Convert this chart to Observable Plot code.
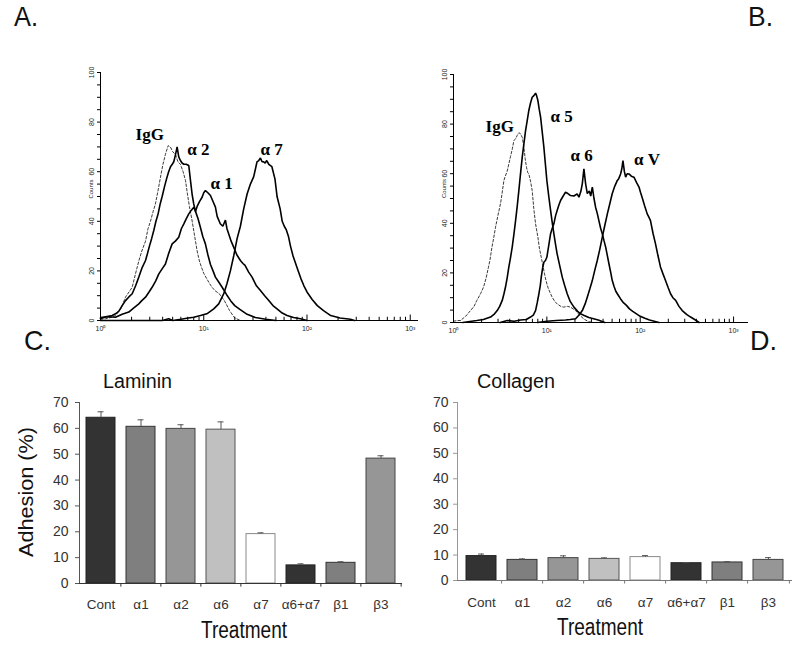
<!DOCTYPE html>
<html><head><meta charset="utf-8">
<script src="https://cdn.jsdelivr.net/npm/d3@7"></script>
<script src="https://cdn.jsdelivr.net/npm/@observablehq/plot@0.6"></script>
<style>
body{margin:0;background:#fff;}
#fig{position:relative;width:800px;height:650px;background:#fff;overflow:hidden;font-family:"Liberation Sans",Arial,sans-serif;}
#fig svg{position:absolute;overflow:visible;}
</style></head><body><div id="fig"></div>
<script>
// ---------- Flow cytometry histograms: [log10 fluorescence, counts] ----------
const aIgG = [[0,0.5],[0.05,0.7],[0.1,1.2],[0.145,2],[0.2,5],[0.242,9.4],[0.307,13.4],[0.34,19],[0.371,24],[0.40,28],[0.436,32],[0.46,37],[0.484,40],[0.51,44],[0.532,47],[0.56,53],[0.581,57.8],[0.605,63],[0.629,67],[0.655,70.5],[0.678,69.9],[0.70,68],[0.726,67],[0.75,64],[0.774,63],[0.80,60],[0.823,56.5],[0.842,51],[0.861,46],[0.884,41],[0.904,36],[0.92,32],[0.936,28],[0.958,24],[0.978,21.5],[1.0,19],[1.03,16.8],[1.055,15],[1.08,13.4],[1.11,12],[1.15,10.8],[1.2,8],[1.25,4],[1.3,1],[1.36,0],[1.5,0]];
const aA2 = [[0,0.7],[0.05,1.5],[0.113,2],[0.15,2.8],[0.178,3.8],[0.21,6],[0.242,8],[0.275,9.5],[0.307,10.8],[0.34,14],[0.371,17.5],[0.40,21],[0.436,24.2],[0.455,27],[0.474,30],[0.495,33],[0.516,36.3],[0.537,40],[0.558,43],[0.578,47],[0.597,50],[0.62,54],[0.639,57],[0.66,60],[0.678,62],[0.695,63],[0.71,64],[0.727,67],[0.742,70],[0.758,66],[0.774,64.5],[0.79,63.5],[0.807,63],[0.83,63],[0.855,62.5],[0.87,57],[0.887,51],[0.903,47],[0.92,44],[0.945,41],[0.968,37.5],[0.99,34],[1.016,30.9],[1.04,26.5],[1.065,22.6],[1.09,20],[1.113,17.5],[1.145,15.5],[1.178,13.4],[1.22,10.5],[1.26,8],[1.3,6],[1.35,4.5],[1.42,2.5],[1.5,1.2],[1.6,0.5],[1.7,0]];
const aA1 = [[0,1],[0.016,1.3],[0.08,1.5],[0.145,1.3],[0.21,2.5],[0.274,3.4],[0.32,5],[0.371,6.7],[0.40,8],[0.436,9.4],[0.47,11.5],[0.50,13.4],[0.535,16],[0.565,18.8],[0.60,21],[0.629,22.8],[0.66,27],[0.694,30.9],[0.725,32],[0.758,33.6],[0.783,37],[0.807,39],[0.83,41],[0.855,43],[0.88,44.5],[0.904,45.7],[0.92,44],[0.936,46],[0.96,48],[0.984,49.7],[1.0,51.5],[1.016,52.4],[1.04,51.5],[1.065,50.4],[1.09,48],[1.113,45.7],[1.13,42],[1.16,39],[1.185,38],[1.21,40.5],[1.225,37],[1.242,34.9],[1.265,32],[1.29,29.6],[1.32,26.5],[1.355,24.2],[1.38,23],[1.40,22.2],[1.435,19.5],[1.468,17.5],[1.51,14],[1.549,12.1],[1.59,10],[1.63,8.1],[1.67,6],[1.71,4.7],[1.76,3],[1.807,2],[1.87,1.2],[1.936,0.7],[2.0,0]];
const aA7 = [[0,0],[0.6,0],[0.66,0.7],[0.70,0],[0.78,0.5],[0.85,1],[0.904,1.3],[0.968,2],[1.03,2.7],[1.097,4.7],[1.145,6.7],[1.194,10.8],[1.226,15],[1.258,20],[1.29,26],[1.323,33],[1.355,38],[1.387,45],[1.42,51],[1.452,55],[1.484,58],[1.50,61],[1.516,64],[1.533,64.5],[1.549,65.5],[1.565,64],[1.58,64],[1.595,63.5],[1.61,64.5],[1.63,63],[1.66,62],[1.69,57],[1.71,50],[1.74,45],[1.76,40],[1.78,38],[1.80,36.5],[1.82,34],[1.84,30],[1.865,26],[1.89,23],[1.915,20],[1.94,17],[1.97,14],[2.0,11.5],[2.05,8.5],[2.1,6],[2.16,4],[2.23,2],[2.32,1],[2.42,0.5],[2.46,0]];

const bIgG = [[0,0.5],[0.039,0.8],[0.075,0.8],[0.13,2.5],[0.182,4.8],[0.22,6.5],[0.25,8.9],[0.29,11.6],[0.322,14.3],[0.35,18],[0.375,22.4],[0.39,25],[0.41,30],[0.43,34],[0.45,38.4],[0.475,43],[0.504,48],[0.52,52],[0.54,57.3],[0.555,59],[0.575,61],[0.593,64],[0.611,67],[0.63,70],[0.647,73.4],[0.665,74],[0.683,75.5],[0.70,76.5],[0.718,76.1],[0.736,74.7],[0.754,70.7],[0.768,66],[0.782,62.6],[0.795,60.5],[0.807,59.9],[0.825,57],[0.843,53.2],[0.86,46],[0.879,39.8],[0.904,34.4],[0.92,30],[0.94,26.3],[0.96,22.5],[0.975,19.6],[0.99,17],[1.01,14.3],[1.035,12],[1.057,10.2],[1.085,8.5],[1.11,7.5],[1.15,6.5],[1.18,6.2],[1.22,6.5],[1.254,6.2],[1.28,5.5],[1.308,4.8],[1.35,3],[1.4,1.3],[1.45,0.3],[1.5,0]];
const bA5 = [[0.1,0],[0.25,0.8],[0.32,1.2],[0.397,2.2],[0.44,3.5],[0.468,4.8],[0.495,6.5],[0.522,8.9],[0.54,11.5],[0.557,14.3],[0.575,18],[0.593,22.4],[0.61,26],[0.629,30.4],[0.647,35.5],[0.665,41.1],[0.683,47],[0.70,53.2],[0.718,60],[0.736,66.6],[0.754,72],[0.772,77.4],[0.79,81.5],[0.807,85.5],[0.825,88.5],[0.843,90.8],[0.861,91.5],[0.879,92.5],[0.89,91.5],[0.904,89.5],[0.918,86],[0.933,82.8],[0.95,77],[0.968,70.7],[0.984,64],[1.0,57.3],[1.02,51],[1.04,45.2],[1.057,40.5],[1.075,35.8],[1.093,31.5],[1.11,27.7],[1.14,22.5],[1.165,18.3],[1.19,15],[1.218,11.6],[1.25,8.5],[1.29,6.2],[1.33,4.5],[1.36,3.5],[1.4,2.8],[1.45,2],[1.55,1],[1.62,0]];
const bA6 = [[0.5,0],[0.575,0.8],[0.65,0.5],[0.72,1],[0.78,1.2],[0.825,2.2],[0.855,3],[0.879,4.8],[0.897,8],[0.915,11.6],[0.93,15],[0.94,18.3],[0.955,22],[0.968,24.3],[0.985,25],[1.0,26.3],[1.02,31],[1.04,35.8],[1.058,38],[1.075,39.8],[1.093,43],[1.11,45.2],[1.13,47.5],[1.147,49.2],[1.175,51],[1.2,52.5],[1.225,52],[1.254,51.2],[1.29,51],[1.325,51.9],[1.344,50.5],[1.365,53],[1.38,56],[1.397,62],[1.415,56],[1.433,52],[1.455,53],[1.47,51],[1.487,54.6],[1.505,50],[1.522,46.5],[1.54,44],[1.558,41],[1.576,38],[1.594,35.8],[1.612,33],[1.63,30.4],[1.648,27],[1.665,23.7],[1.685,20],[1.70,17],[1.72,14.5],[1.74,12.5],[1.765,11],[1.79,9.5],[1.82,8],[1.85,7],[1.885,5.5],[1.92,4.5],[1.96,3.5],[2.0,2.5],[2.05,1.7],[2.1,1],[2.15,0.5],[2.2,0]];
const bAV = [[0.9,0],[1.0,0.5],[1.1,0.8],[1.2,1],[1.25,1.2],[1.308,1.5],[1.345,3],[1.38,4.8],[1.41,7.5],[1.433,10.2],[1.46,13.5],[1.487,16.9],[1.513,21],[1.54,25],[1.567,29.5],[1.594,34.4],[1.62,39],[1.648,43.8],[1.675,48],[1.70,51.9],[1.728,55],[1.755,57.3],[1.77,58],[1.79,59.9],[1.803,62],[1.815,65.3],[1.83,61],[1.844,58.6],[1.86,60],[1.88,59.9],[1.905,59],[1.933,58.6],[1.96,56.5],[1.987,54.6],[2.003,52.5],[2.02,50.5],[2.048,47],[2.075,43.8],[2.093,42.5],[2.11,41.1],[2.137,36],[2.164,31.7],[2.19,27],[2.217,22.4],[2.245,19.5],[2.27,17],[2.3,14],[2.325,11.6],[2.35,10],[2.38,8.9],[2.415,6.5],[2.45,4.8],[2.5,3.2],[2.54,2.2],[2.6,0.8],[2.63,0]];

// curve annotations (text, log10 x, counts)
const labelsA = [{text:"IgG",x:0.34,y:72.6},{text:"α 2",x:0.84,y:66.8},{text:"α 1",x:1.065,y:53.1},{text:"α 7",x:1.549,y:66.9}];
const labelsB = [{text:"IgG",x:0.343,y:76.7},{text:"α 5",x:1.04,y:80.8},{text:"α 6",x:1.254,y:65.3},{text:"α V",x:1.933,y:63.7}];
const histDecades = [0,1,2,3];
const decadeText = ["10⁰","10¹","10²","10³"];
const countTicks = [0,20,40,60,80,100];

// ---------- Adhesion bar charts ----------
const categories = ["Cont","α1","α2","α6","α7","α6+α7","β1","β3"];
const laminin = [64.1,60.6,59.8,59.5,19.1,7.0,8.0,48.3];
const lamininErr = [2.3,2.7,1.6,3.0,0.5,0.6,0.4,1.1];
const collagen = [9.6,8.1,8.8,8.5,9.2,6.8,7.1,8.1];
const collagenErr = [0.8,0.4,0.9,0.4,0.6,0.2,0.3,0.9];
const barColors = ["#333333","#7f7f7f","#969696","#c0c0c0","#ffffff","#333333","#7f7f7f","#969696"];
const barStrokes = ["#222222","#333333","#444444","#555555","#8a8a8a","#222222","#333333","#444444"];
const adhesionTicks = [0,10,20,30,40,50,60,70];

const fig = document.getElementById("fig");
const FONT = "'Liberation Sans', Arial, sans-serif";

function histPanel(o) {
  const minor = [];
  for (let e = 0; e < 3; e++) for (let k = 2; k <= 9; k++) minor.push(e + Math.log10(k));
  const svg = Plot.plot({
    width: o.width, height: o.height,
    marginLeft: o.ml, marginRight: o.mr, marginTop: o.mt, marginBottom: o.mb,
    style: {background: "transparent", fontFamily: FONT, overflow: "visible"},
    x: {domain: [0, o.xmax], axis: null},
    y: {domain: [0, 100], axis: null},
    marks: [
      ...o.curves.map(c => Plot.line(c.data, {
        x: d => d[0], y: d => d[1],
        stroke: c.dashed ? "#3a3a3a" : "#000",
        strokeWidth: c.dashed ? 1 : 1.6,
        strokeDasharray: c.dashed ? "2.5,2" : null,
        strokeLinejoin: "miter"
      })),
      Plot.ruleY([0], {stroke: "#000", strokeWidth: 1.2}),
      Plot.ruleX([0], {stroke: "#000", strokeWidth: 1}),
      Plot.ruleX(minor, {x: d => d, y1: 0, y2: 1.3, stroke: "#000"}),
      Plot.ruleX(histDecades, {x: d => d, y1: 0, y2: 2.2, stroke: "#000"}),
      Plot.axisY({ticks: d3.range(0, 101, 5), tickSize: 3, tickFormat: () => "", stroke: "#000", label: null}),
      Plot.text(histDecades, {x: d => d, y: 0, text: d => decadeText[d], dy: 8, fontSize: 7, fill: "#222"}),
      Plot.text(countTicks, {x: 0, y: d => d, text: d => String(d), rotate: -90, dx: -9, fontSize: 7, fill: "#222"}),
      Plot.text(["Counts"], {x: 0, y: o.countsY, text: d => d, rotate: -90, dx: -9, fontSize: 6, fill: "#222"}),
      Plot.text(o.labels, {x: "x", y: "y", text: "text", textAnchor: "start", lineAnchor: "bottom",
        fontFamily: "'Liberation Serif', 'Times New Roman', serif", fontWeight: "bold", fontSize: 17, fill: "#000"})
    ]
  });
  svg.style.left = o.left + "px";
  svg.style.top = o.top + "px";
  fig.appendChild(svg);
}

function barPanel(o) {
  const rows = categories.map((c, i) => ({cat: c, value: o.values[i], err: o.errs[i], color: barColors[i], stroke: barStrokes[i]}));
  const pi = 0.28, po = 0.15;
  const step = (o.width - o.ml - o.mr) / (categories.length - pi + 2 * po);
  const bw = step * (1 - pi);
  const svg = Plot.plot({
    width: o.width, height: o.height,
    marginLeft: o.ml, marginRight: o.mr, marginTop: o.mt, marginBottom: o.mb,
    style: {background: "transparent", fontFamily: FONT, overflow: "visible"},
    x: {type: "band", domain: categories, paddingInner: pi, paddingOuter: po, axis: null},
    y: {domain: [0, 70], axis: null},
    color: {type: "identity"},
    marks: [
      Plot.barY(rows, {x: "cat", y: "value", fill: "color", stroke: "stroke", strokeWidth: 1}),
      Plot.ruleX(rows, {x: "cat", y1: "value", y2: d => d.value + d.err, stroke: "#555"}),
      Plot.tickY(rows, {x: "cat", y: d => d.value + d.err, stroke: "#555", insetLeft: (bw - 6) / 2, insetRight: (bw - 6) / 2}),
      Plot.frame({anchor: "left", stroke: o.yAxisColor}),
      Plot.ruleY([0], {stroke: o.xAxisColor, strokeWidth: 1.2}),
      Plot.ruleX(categories.slice(1), {x: d => d, y1: 0, y2: -1.4, dx: -step / 2, stroke: o.xAxisColor}),
      Plot.ruleX(categories.slice(-1), {x: d => d, y1: 0, y2: -1.4, dx: step / 2, stroke: o.xAxisColor}),
      Plot.axisY({ticks: adhesionTicks, tickSize: 4, tickPadding: o.tickPad, fontSize: 14, fill: "#333", stroke: o.yAxisColor, label: null}),
      Plot.text(categories, {x: d => d, y: 0, dy: o.catDy, fontSize: 13.5, fill: "#333"})
    ]
  });
  svg.style.left = o.left + "px";
  svg.style.top = o.top + "px";
  fig.appendChild(svg);
}

histPanel({left: 60, top: 60, width: 370, height: 280, ml: 40, mr: 12, mt: 12, mb: 20, xmax: 3.08, countsY: 53,
  labels: labelsA,
  curves: [{data: aIgG, dashed: true}, {data: aA2}, {data: aA1}, {data: aA7}]});
histPanel({left: 420, top: 60, width: 350, height: 280, ml: 33, mr: 22, mt: 14, mb: 18, xmax: 3.16, countsY: 54,
  labels: labelsB,
  curves: [{data: bIgG, dashed: true}, {data: bA5}, {data: bA6}, {data: bAV}]});
barPanel({left: 0, top: 360, width: 410, height: 290, ml: 79, mr: 8, mt: 42, mb: 67,
  values: laminin, errs: lamininErr, yAxisColor: "#555", xAxisColor: "#333", tickPad: 7, catDy: 21});
barPanel({left: 410, top: 360, width: 390, height: 290, ml: 47, mr: 8, mt: 42, mb: 70,
  values: collagen, errs: collagenErr, yAxisColor: "#999", xAxisColor: "#777", tickPad: 5, catDy: 22});

// ---------- overlay text: panel letters, titles, axis titles ----------
const ov = d3.select(fig).append("svg").attr("width", 800).attr("height", 650)
  .style("left", "0px").style("top", "0px").style("pointer-events", "none")
  .attr("font-family", FONT);
const texts = [
  {t: "A.", x: 14, y: 26, size: 28, len: 24},
  {t: "B.", x: 748, y: 26, size: 28, len: 25},
  {t: "C.", x: 24, y: 350, size: 28, len: 27},
  {t: "D.", x: 750, y: 350, size: 28, len: 27},
  {t: "Laminin", x: 103, y: 388, size: 20, len: 69},
  {t: "Collagen", x: 477, y: 388, size: 20, len: 78},
  {t: "Treatment", x: 201, y: 638, size: 23, len: 86},
  {t: "Treatment", x: 557, y: 635, size: 23, len: 86}
];
ov.selectAll("text.lab").data(texts).join("text").attr("class", "lab")
  .attr("x", d => d.x).attr("y", d => d.y).attr("font-size", d => d.size)
  .attr("textLength", d => d.len).attr("lengthAdjust", "spacingAndGlyphs")
  .attr("fill", "#111").text(d => d.t);
ov.append("text").attr("transform", "translate(33,492) rotate(-90)")
  .attr("text-anchor", "middle").attr("font-size", 21).attr("fill", "#111")
  .attr("textLength", 130).attr("lengthAdjust", "spacingAndGlyphs").text("Adhesion (%)");
</script>
</body></html>
